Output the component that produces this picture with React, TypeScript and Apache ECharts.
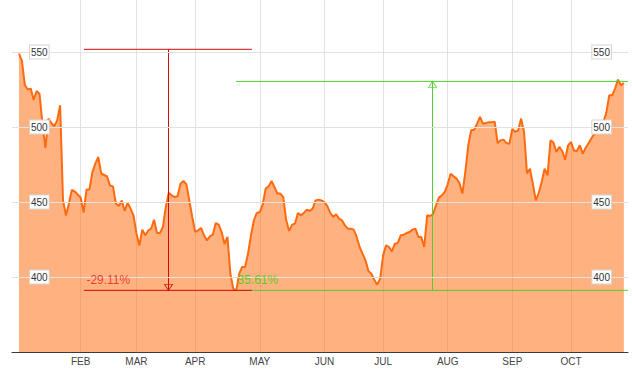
import React, { useEffect, useRef } from 'react';
import * as echarts from 'echarts';

// Daily closing prices, one value per trading day, grouped by month
const jan = [549, 544, 528, 525, 525.6, 518, 524, 522, 502, 486, 505.6, 502.7, 500.4, 504.4, 514.4, 451, 441, 449, 458, 457, 455];
const feb = [453, 443, 458.4, 458.4, 470, 475.6, 480, 469, 468, 467, 461, 460.4, 449, 447.3, 451, 444, 449.6, 445.6, 441];
const mar = [429, 421, 431.6, 427.8, 431, 432.2, 438.2, 429.3, 429.3, 433.3, 446.7, 456.2, 454.4, 453.3, 453.8, 462.2, 464, 461.8, 451.1, 440];
const apr = [430, 431.1, 432.7, 427.8, 424.4, 427.1, 428.2, 436, 434.9, 430, 422, 426.7, 402, 392, 391.1, 402.2, 406.7, 406.7, 415.6, 427.8, 437.8, 442.7];
const may = [443.3, 448.4, 458.9, 460.4, 464, 460, 455.6, 455.6, 453.3, 437.8, 430.7, 434.9, 435.6, 442.7, 441.1, 442.7, 444.9, 444, 445.6, 451.1, 451.6, 451.1];
const jun = [450, 447.3, 442.7, 440, 441.8, 438.9, 437.8, 434.4, 432.2, 432.2, 431.6, 426.7, 420, 415.6, 411.1, 404, 402.2, 398.2, 394.9, 398.9];
const jul = [414.4, 421.1, 420, 417.1, 422.2, 422.7, 427.8, 428.2, 429.3, 430, 431.6, 432.2, 426.7, 426.7, 420, 441.1, 440.7, 441.8, 447.8, 452.9, 454.4, 456.7];
const aug = [461.8, 468.9, 467.1, 465.6, 462.7, 455.6, 470, 487.8, 497.8, 498.2, 502.2, 506.7, 502.2, 502.7, 503.1, 503.1, 503.6, 489.3, 491.1, 491.6, 489.3, 488.9];
const sep = [498.7, 496.7, 497.8, 505.6, 496.7, 469, 472.2, 462.2, 451.1, 456, 463.3, 472.2, 467.8, 491.1, 489.8, 483.3, 486.7, 484, 478.2, 487.8];
const oct = [490, 484.4, 484, 487.8, 482.2, 486.2, 489.3, 492.7, 495.6, 500, 502.9, 503.3, 509.3, 521.1, 521.1, 525.6, 531.6, 527.8, 529.3];

const months = [jan, feb, mar, apr, may, jun, jul, aug, sep, oct];
const monthNames = ['FEB', 'MAR', 'APR', 'MAY', 'JUN', 'JUL', 'AUG', 'SEP', 'OCT'];
const yTicks = [400, 450, 500, 550];

// Annotation values
const drawdownHigh = 551.8;
const drawdownLow = 391.1;
const drawdownLabel = '-29.11%';
const recoveryHigh = 530.4;
const recoveryLabel = '35.61%';
// Annotation anchors on the trading-day axis
const ddFrom = 22.1;
const ddTo = 79.3;
const ddArrowAt = 50.92;
const rcFrom = 73.9;
const rcTo = 207.4;
const rcArrowAt = 140.82;

const RED = '#D40A0A';
const RED_TEXT = '#EC1A1A';
const GREEN = '#50D02C';
const GREEN_TEXT = '#2FD20A';
const FONT = 'Liberation Sans, Arial, Helvetica, sans-serif';

export default function App() {
  const ref = useRef<HTMLDivElement>(null);

  useEffect(() => {
    if (!ref.current) return;
    const chart = echarts.init(ref.current, undefined, { renderer: 'svg' });

    const prices: number[] = ([] as number[]).concat(...months);
    const monthStarts: number[] = [];
    let acc = 0;
    for (let m = 0; m < months.length - 1; m++) {
      acc += months[m].length;
      monthStarts.push(acc);
    }

    const lineSeries = (data: number[][], color: string, z: number) => ({
      type: 'line',
      data,
      showSymbol: false,
      symbol: 'none',
      lineStyle: { color, width: 1 },
      z,
      silent: true,
    });

    const yLabel = (margin: number) => ({
      customValues: yTicks,
      inside: true,
      margin,
      color: '#333',
      fontSize: 10,
      fontFamily: FONT,
      backgroundColor: '#fff',
      borderColor: '#d6d6d6',
      borderWidth: 1,
      padding: [2, 1, 1, 1],
    });

    chart.setOption({
      animation: false,
      grid: { left: 12, right: 4, top: 0, bottom: 17, containLabel: false },
      xAxis: {
        type: 'value',
        min: -2.38,
        max: 207.4,
        axisLine: { show: true, lineStyle: { color: '#3a3a3a', width: 1 } },
        axisTick: { show: false, customValues: monthStarts },
        axisLabel: {
          customValues: monthStarts,
          formatter: (v: number) => monthNames[monthStarts.indexOf(Math.round(v))] || '',
          color: '#444',
          fontSize: 10,
          fontFamily: FONT,
          margin: 4,
        },
        splitLine: { show: true, lineStyle: { color: '#e2e2e2', width: 1 } },
      },
      yAxis: [
        {
          type: 'value',
          min: 350,
          max: 584.67,
          axisLine: { show: false },
          axisTick: { show: false, customValues: yTicks },
          axisLabel: yLabel(18),
          splitLine: { show: true, lineStyle: { color: '#e2e2e2', width: 1 } },
          z: 5,
        },
        {
          type: 'value',
          position: 'right',
          min: 350,
          max: 584.67,
          axisLine: { show: false },
          axisTick: { show: false, customValues: yTicks },
          axisLabel: yLabel(17),
          splitLine: { show: false },
          z: 5,
        },
      ],
      series: [
        {
          type: 'line',
          data: prices.map((v, i) => [i, v]),
          showSymbol: false,
          symbol: 'none',
          lineStyle: { color: '#FF6A10', width: 2 },
          areaStyle: { color: '#FF6600', opacity: 0.5, origin: 'start' },
          z: 2,
        },
        lineSeries([[rcFrom, recoveryHigh], [rcTo, recoveryHigh]], GREEN, 3),
        lineSeries([[rcFrom, drawdownLow], [rcTo, drawdownLow]], GREEN, 3),
        lineSeries([[rcArrowAt, drawdownLow], [rcArrowAt, recoveryHigh]], GREEN, 3),
        lineSeries([[ddFrom, drawdownHigh], [ddTo, drawdownHigh]], RED, 4),
        lineSeries([[ddFrom, drawdownLow], [ddTo, drawdownLow]], RED, 4),
        lineSeries([[ddArrowAt, drawdownHigh], [ddArrowAt, drawdownLow]], RED, 4),
        {
          type: 'scatter',
          z: 6,
          silent: true,
          data: [
            {
              value: [ddArrowAt, drawdownLow],
              symbol: 'path://M0,0 L8,0 L4,6 Z',
              symbolSize: [8, 6],
              symbolOffset: [0, -3],
              itemStyle: { color: 'rgba(255,255,255,0)', borderColor: RED, borderWidth: 1 },
            },
            {
              value: [rcArrowAt, recoveryHigh],
              symbol: 'path://M4,0 L8,6 L0,6 Z',
              symbolSize: [8, 6],
              symbolOffset: [0, 3],
              itemStyle: { color: 'rgba(255,255,255,0)', borderColor: GREEN, borderWidth: 1 },
            },
          ],
        },
        {
          type: 'scatter',
          z: 7,
          silent: true,
          symbolSize: 1,
          itemStyle: { color: 'rgba(0,0,0,0)' },
          data: [
            {
              value: [ddFrom, drawdownLow],
              label: {
                show: true,
                formatter: drawdownLabel,
                position: [3, -16],
                color: RED_TEXT,
                fontSize: 12,
                fontFamily: FONT,
              },
            },
            {
              value: [rcFrom, drawdownLow],
              label: {
                show: true,
                formatter: recoveryLabel,
                position: [2, -16],
                color: GREEN_TEXT,
                fontSize: 12,
                fontFamily: FONT,
              },
            },
          ],
        },
      ],
    });

    return () => chart.dispose();
  }, []);

  return <div ref={ref} style={{ width: 632, height: 369, position: 'absolute', left: 0, top: 0 }} />;
}
